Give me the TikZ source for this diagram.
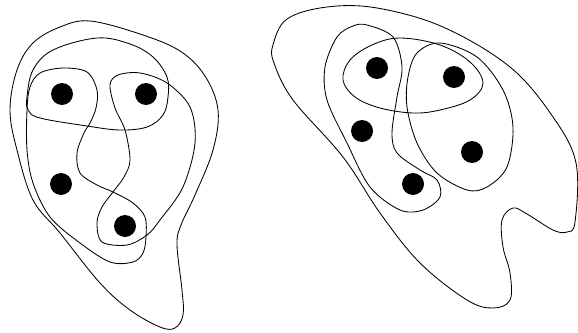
\documentclass[tikz,border=0pt]{standalone}
\begin{document}
\begin{tikzpicture}[x=1pt,y=-1pt,
  vdot/.style={circle,fill=black,inner sep=0pt,minimum size=22pt},
  edge/.style={line width=0.85pt,line join=round}]
\useasboundingbox (0,0) rectangle (578,332);
% left hypergraph vertices
\node[vdot] (a) at (62,94) {};
\node[vdot] (b) at (146,94) {};
\node[vdot] (c) at (61,184) {};
\node[vdot] (d) at (125,226) {};
% outer
\draw[edge] plot[smooth cycle,tension=0.6] coordinates {
 (90,21) (140,34) (180,51) (205,76) (218,110) (213,150) (195,195) (181,225)
 (177,245) (182,290) (183,315) (175,328) (160,327) (130,310) (100,283)
 (60,233) (33,200) (17,150) (10,110) (17,70) (33,43) (60,27)};
% ellipse {a,b}
\draw[edge] plot[smooth cycle,tension=0.6] coordinates {
 (97,38) (130,44) (153,57) (167,77) (168,97) (163,115) (147,127) (120,130)
 (87,126) (40,118) (28,110) (27,97) (33,70) (53,50)};
% lobe {a,c,d}
\draw[edge] plot[smooth cycle,tension=0.55] coordinates {
 (63,68) (87,72) (97,90) (96,108) (90,123) (84,133) (77,153) (80,173) (97,185)
 (113,192) (133,203) (145,217) (146,237) (143,253) (133,262) (110,262) (80,243)
 (50,217) (33,183) (27,150) (27,110) (30,87) (40,73)};
% lobe {b,d}
\draw[edge] plot[smooth cycle,tension=0.55] coordinates {
 (110,85) (118,75) (140,73) (167,83) (190,107) (195,143) (183,187) (160,220)
 (147,235) (127,245) (102,242) (97,223) (102,207) (113,192) (124,177) (130,160)
 (125,130) (115,108)};
% right hypergraph vertices
\node[vdot] (A) at (377,68) {};
\node[vdot] (B) at (454,77) {};
\node[vdot] (C) at (362,131) {};
\node[vdot] (D) at (472,152) {};
\node[vdot] (E) at (413,184) {};
% outer
\draw[edge] plot[smooth cycle,tension=0.6] coordinates {
 (287,19) (327,7) (377,8) (443,27) (510,67) (553,117) (576,163) (575,222)
 (567,232) (553,230) (527,214) (513,208) (502,220) (503,247) (510,273)
 (510,300) (493,308) (467,300) (420,263) (380,213) (343,157) (293,100)
 (274,63) (273,45)};
% ellipse {A,B}
\draw[edge] plot[smooth cycle,tension=0.6] coordinates {
 (400,38) (440,45) (470,62) (483,83) (470,100) (440,110) (413,113) (380,108)
 (355,97) (343,80) (350,60) (372,45)};
% lobe {A,C,E}
\draw[edge] plot[smooth cycle,tension=0.55] coordinates {
 (367,25) (393,37) (402,67) (397,97) (392,133) (397,153) (420,170) (437,180)
 (440,197) (423,210) (400,210) (370,187) (347,143) (327,100) (325,67) (337,37)
 (353,26)};
% lobe {B,D}
\draw[edge] plot[smooth cycle,tension=0.55] coordinates {
 (440,43) (477,57) (503,90) (513,127) (507,167) (487,187) (467,190) (437,173)
 (417,143) (407,107) (408,77) (417,53)};
\end{tikzpicture}
\end{document}
